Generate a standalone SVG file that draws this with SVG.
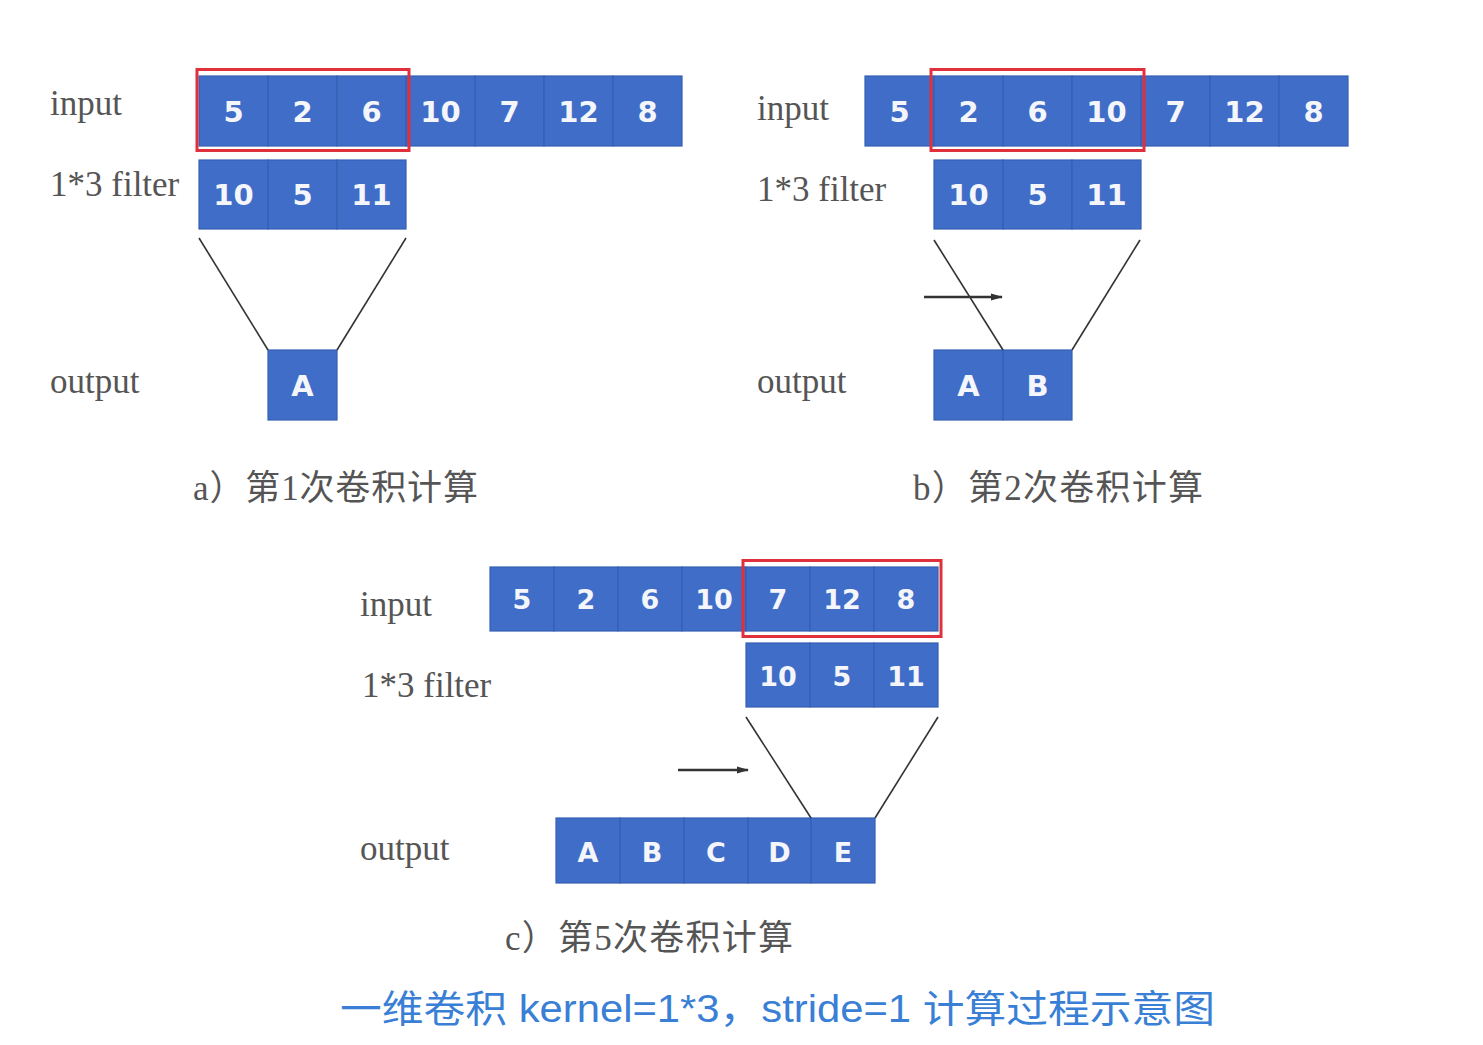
<svg xmlns="http://www.w3.org/2000/svg" width="1483" height="1045" viewBox="0 0 1483 1045">
<defs>
<style>
.cell{fill:#3f6dc8;stroke:#3560b3;stroke-width:1.2}
.num{fill:#f4f6fb;font-family:"DejaVu Sans","Liberation Sans",sans-serif;font-weight:bold;font-size:29px;text-anchor:middle}
.numc{fill:#f4f6fb;font-family:"DejaVu Sans","Liberation Sans",sans-serif;font-weight:bold;font-size:27px;text-anchor:middle}
.lab{fill:#555;font-family:"Liberation Serif","Noto Sans CJK SC",serif;font-size:35px}
.cap{fill:#555;font-family:"Liberation Serif","Noto Sans CJK SC",serif;font-size:35px}
.red{fill:none;stroke:#e0303c;stroke-width:3}
.ln{stroke:#333;stroke-width:1.6;fill:none}
.arr{stroke:#333;stroke-width:2.4;fill:none}
.title{fill:#3a7fd6;font-family:"Liberation Sans","Noto Sans CJK SC",sans-serif;font-size:38px}
</style>
<marker id="ah" markerWidth="12" markerHeight="8" refX="11" refY="4" orient="auto" markerUnits="userSpaceOnUse">
<path d="M0,0.5 L12,4 L0,7.5 Z" fill="#333"/>
</marker>
</defs>
<rect width="1483" height="1045" fill="#ffffff"/>

<!-- Panel a -->
<g id="a-labels">
<text class="lab" x="50" y="115">input</text>
<text class="lab" x="50" y="196">1*3 filter</text>
<text class="lab" x="50" y="393">output</text>
</g>
<g id="a-input">
<rect class="cell" x="199" y="76" width="69" height="70"/><text class="num" x="233.5" y="122">5</text>
<rect class="cell" x="268" y="76" width="69" height="70"/><text class="num" x="302.5" y="122">2</text>
<rect class="cell" x="337" y="76" width="69" height="70"/><text class="num" x="371.5" y="122">6</text>
<rect class="cell" x="406" y="76" width="69" height="70"/><text class="num" x="440.5" y="122">10</text>
<rect class="cell" x="475" y="76" width="69" height="70"/><text class="num" x="509.5" y="122">7</text>
<rect class="cell" x="544" y="76" width="69" height="70"/><text class="num" x="578.5" y="122">12</text>
<rect class="cell" x="613" y="76" width="69" height="70"/><text class="num" x="647.5" y="122">8</text>
<rect class="red" x="197" y="69.5" width="212" height="81"/>
</g>
<g id="a-filter">
<rect class="cell" x="199" y="160" width="69" height="69"/><text class="num" x="233.5" y="205">10</text>
<rect class="cell" x="268" y="160" width="69" height="69"/><text class="num" x="302.5" y="205">5</text>
<rect class="cell" x="337" y="160" width="69" height="69"/><text class="num" x="371.5" y="205">11</text>
</g>
<g id="a-output">
<rect class="cell" x="268" y="350" width="69" height="70"/><text class="num" x="302.5" y="396">A</text>
</g>
<g id="a-caption">
<text class="cap" x="193" y="500" textLength="285" lengthAdjust="spacing">a）第1次卷积计算</text>
</g>

<!-- Panel b -->
<g id="b-labels">
<text class="lab" x="757" y="120">input</text>
<text class="lab" x="757" y="201">1*3 filter</text>
<text class="lab" x="757" y="393">output</text>
</g>
<g id="b-input">
<rect class="cell" x="865" y="76" width="69" height="70"/><text class="num" x="899.5" y="122">5</text>
<rect class="cell" x="934" y="76" width="69" height="70"/><text class="num" x="968.5" y="122">2</text>
<rect class="cell" x="1003" y="76" width="69" height="70"/><text class="num" x="1037.5" y="122">6</text>
<rect class="cell" x="1072" y="76" width="69" height="70"/><text class="num" x="1106.5" y="122">10</text>
<rect class="cell" x="1141" y="76" width="69" height="70"/><text class="num" x="1175.5" y="122">7</text>
<rect class="cell" x="1210" y="76" width="69" height="70"/><text class="num" x="1244.5" y="122">12</text>
<rect class="cell" x="1279" y="76" width="69" height="70"/><text class="num" x="1313.5" y="122">8</text>
<rect class="red" x="931" y="69.5" width="213" height="81"/>
</g>
<g id="b-filter">
<rect class="cell" x="934" y="160" width="69" height="69"/><text class="num" x="968.5" y="205">10</text>
<rect class="cell" x="1003" y="160" width="69" height="69"/><text class="num" x="1037.5" y="205">5</text>
<rect class="cell" x="1072" y="160" width="69" height="69"/><text class="num" x="1106.5" y="205">11</text>
</g>
<g id="b-output">
<rect class="cell" x="934" y="350" width="69" height="70"/><text class="num" x="968.5" y="396">A</text>
<rect class="cell" x="1003" y="350" width="69" height="70"/><text class="num" x="1037.5" y="396">B</text>
</g>
<g id="b-caption">
<text class="cap" x="913" y="500" textLength="290" lengthAdjust="spacing">b）第2次卷积计算</text>
</g>

<!-- Panel c -->
<g id="c-labels">
<text class="lab" x="360" y="616">input</text>
<text class="lab" x="362" y="697">1*3 filter</text>
<text class="lab" x="360" y="860">output</text>
</g>
<g id="c-input">
<rect class="cell" x="490" y="567" width="64" height="64"/><text class="numc" x="522" y="609">5</text>
<rect class="cell" x="554" y="567" width="64" height="64"/><text class="numc" x="586" y="609">2</text>
<rect class="cell" x="618" y="567" width="64" height="64"/><text class="numc" x="650" y="609">6</text>
<rect class="cell" x="682" y="567" width="64" height="64"/><text class="numc" x="714" y="609">10</text>
<rect class="cell" x="746" y="567" width="64" height="64"/><text class="numc" x="778" y="609">7</text>
<rect class="cell" x="810" y="567" width="64" height="64"/><text class="numc" x="842" y="609">12</text>
<rect class="cell" x="874" y="567" width="64" height="64"/><text class="numc" x="906" y="609">8</text>
<rect class="red" x="743" y="560.5" width="198" height="76"/>
</g>
<g id="c-filter">
<rect class="cell" x="746" y="643" width="64" height="64"/><text class="numc" x="778" y="686">10</text>
<rect class="cell" x="810" y="643" width="64" height="64"/><text class="numc" x="842" y="686">5</text>
<rect class="cell" x="874" y="643" width="64" height="64"/><text class="numc" x="906" y="686">11</text>
</g>
<g id="c-output">
<rect class="cell" x="556" y="818" width="64" height="65"/><text class="numc" x="588" y="862">A</text>
<rect class="cell" x="620" y="818" width="64" height="65"/><text class="numc" x="652" y="862">B</text>
<rect class="cell" x="684" y="818" width="64" height="65"/><text class="numc" x="716" y="862">C</text>
<rect class="cell" x="748" y="818" width="63" height="65"/><text class="numc" x="779.5" y="862">D</text>
<rect class="cell" x="811" y="818" width="64" height="65"/><text class="numc" x="843" y="862">E</text>
</g>
<g id="c-caption">
<text class="cap" x="505" y="950" textLength="288" lengthAdjust="spacing">c）第5次卷积计算</text>
</g>

<!-- connectors -->
<g id="connectors">
<line class="ln" x1="199" y1="238" x2="268" y2="350"/>
<line class="ln" x1="406" y1="238" x2="337" y2="350"/>
<line class="ln" x1="934" y1="240" x2="1003" y2="350"/>
<line class="ln" x1="1140" y1="240" x2="1072" y2="350"/>
<line class="arr" x1="924" y1="297" x2="1002" y2="297" marker-end="url(#ah)"/>
<line class="ln" x1="746" y1="717" x2="811" y2="818"/>
<line class="ln" x1="938" y1="717" x2="875" y2="818"/>
<line class="arr" x1="678" y1="770" x2="748" y2="770" marker-end="url(#ah)"/>
</g>

<g id="title">
<text class="title" x="340" y="1022" textLength="875" lengthAdjust="spacingAndGlyphs">一维卷积 kernel=1*3，stride=1 计算过程示意图</text>
</g>
</svg>
